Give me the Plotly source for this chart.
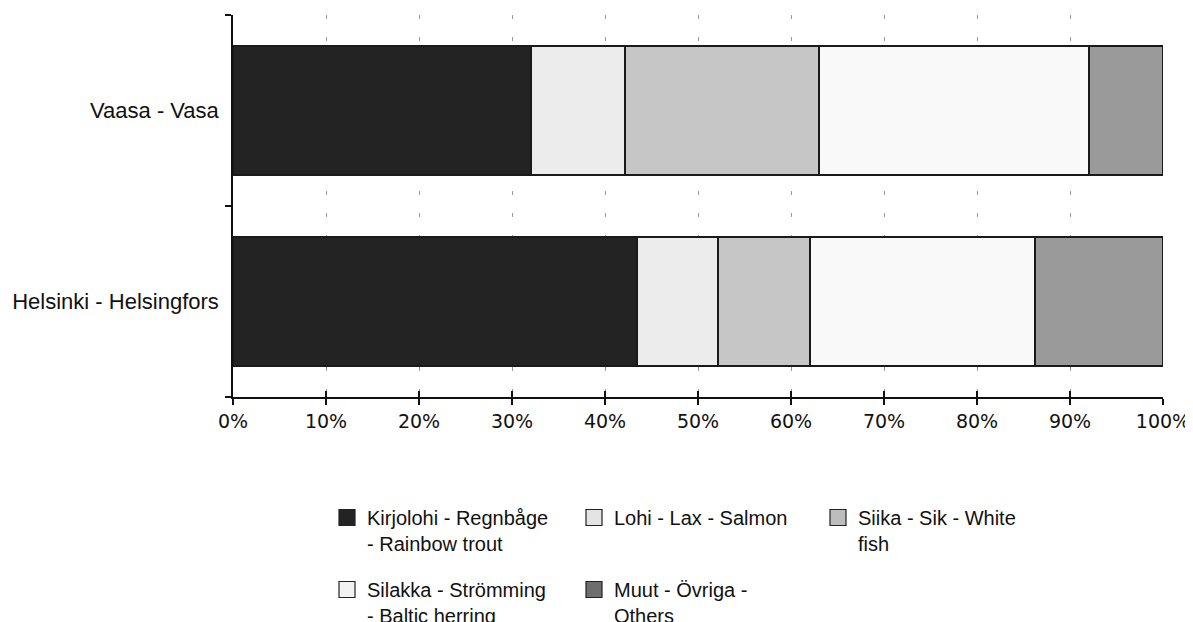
import plotly.graph_objects as go

categories = ["Helsinki - Helsingfors", "Vaasa - Vasa"]
series_names = [
    "Kirjolohi - Regnbåge<br>- Rainbow trout",
    "Lohi - Lax - Salmon",
    "Siika - Sik - White<br>fish",
    "Silakka - Strömming<br>- Baltic herring",
    "Muut - Övriga -<br>Others",
]
kirjolohi = [43.4, 32.0]
lohi = [8.8, 10.2]
siika = [9.8, 20.8]
silakka = [24.2, 29.0]
muut = [13.8, 8.0]
series_values = [kirjolohi, lohi, siika, silakka, muut]
colors = ["#232323", "#ececec", "#c6c6c6", "#f9f9f9", "#9a9a9a"]
legend_colors = ["#232323", "#e4e4e4", "#bdbdbd", "#f2f2f2", "#6e6e6e"]
legend_ids = ["legend", "legend2", "legend3", "legend4", "legend5"]
x_ticks = [0, 10, 20, 30, 40, 50, 60, 70, 80, 90, 100]
x_ticklabels = [f"{v}%" for v in x_ticks]

fig = go.Figure()
for name, vals, col in zip(series_names, series_values, colors):
    fig.add_trace(go.Bar(
        y=categories, x=vals, name=name, orientation="h",
        marker=dict(color=col, line=dict(color="#1a1a1a", width=2)),
        showlegend=False, hoverinfo="skip",
    ))
# legend entries (bigger square keys than the default bar key)
for name, col, lg in zip(series_names, legend_colors, legend_ids):
    fig.add_trace(go.Scatter(
        x=[None], y=[None], mode="markers", name=name, legend=lg,
        marker=dict(symbol="square", size=16, color=col,
                    line=dict(color="#222222", width=1.2)),
        hoverinfo="skip",
    ))
# invisible trace to register the overlay axis that draws inner tick halves
fig.add_trace(go.Scatter(x=[None], y=[None], xaxis="x2", showlegend=False, hoverinfo="skip"))

font_main = "Liberation Sans, Arial, sans-serif"
W, H = 1193, 622


def legend_box(px_x, px_top):
    return dict(
        orientation="v", xref="container", yref="container",
        x=px_x / W, y=1 - px_top / H, xanchor="left", yanchor="top",
        valign="top", font=dict(size=20, family=font_main, color="#111111"),
        itemclick=False, itemdoubleclick=False, bgcolor="rgba(0,0,0,0)",
        itemsizing="trace",
    )


col_x = [319, 566, 810]
row_top = [490, 562]

fig.update_layout(
    barmode="stack",
    bargap=0.32,
    width=W, height=H,
    margin=dict(l=225, r=38, t=7, b=233, autoexpand=False),
    plot_bgcolor="white", paper_bgcolor="white",
    font=dict(family=font_main, size=16, color="#111111"),
    xaxis=dict(
        range=[0, 100], tickvals=x_ticks, ticktext=x_ticklabels,
        showline=True, linecolor="#111111", linewidth=1.5,
        ticks="outside", ticklen=6, tickcolor="#111111", tickwidth=1.5,
        showgrid=True, gridcolor="#9a9a9a", gridwidth=1, griddash="4px,18px",
        zeroline=False, automargin=False,
        tickfont=dict(size=19, family="DejaVu Sans, sans-serif", color="#111111"),
    ),
    xaxis2=dict(
        range=[0, 100], tickvals=x_ticks, overlaying="x", side="bottom",
        showticklabels=False, ticks="inside", ticklen=6, tickcolor="#111111",
        tickwidth=1.5, showgrid=False, showline=False, zeroline=False,
    ),
    yaxis=dict(
        categoryorder="array", categoryarray=categories,
        range=[-0.5, 1.5],
        showline=True, linecolor="#111111", linewidth=1.5,
        ticks="outside", tickson="boundaries", ticklen=6, tickcolor="#111111",
        tickwidth=1.5, showgrid=False, zeroline=False, automargin=False,
        tickfont=dict(size=22, family=font_main, color="#111111"),
        ticklabelstandoff=8,
    ),
    legend=legend_box(col_x[0], row_top[0]),
    legend2=legend_box(col_x[1], row_top[0]),
    legend3=legend_box(col_x[2], row_top[0]),
    legend4=legend_box(col_x[0], row_top[1]),
    legend5=legend_box(col_x[1], row_top[1]),
    showlegend=True,
)

fig.write_html("out.html")
